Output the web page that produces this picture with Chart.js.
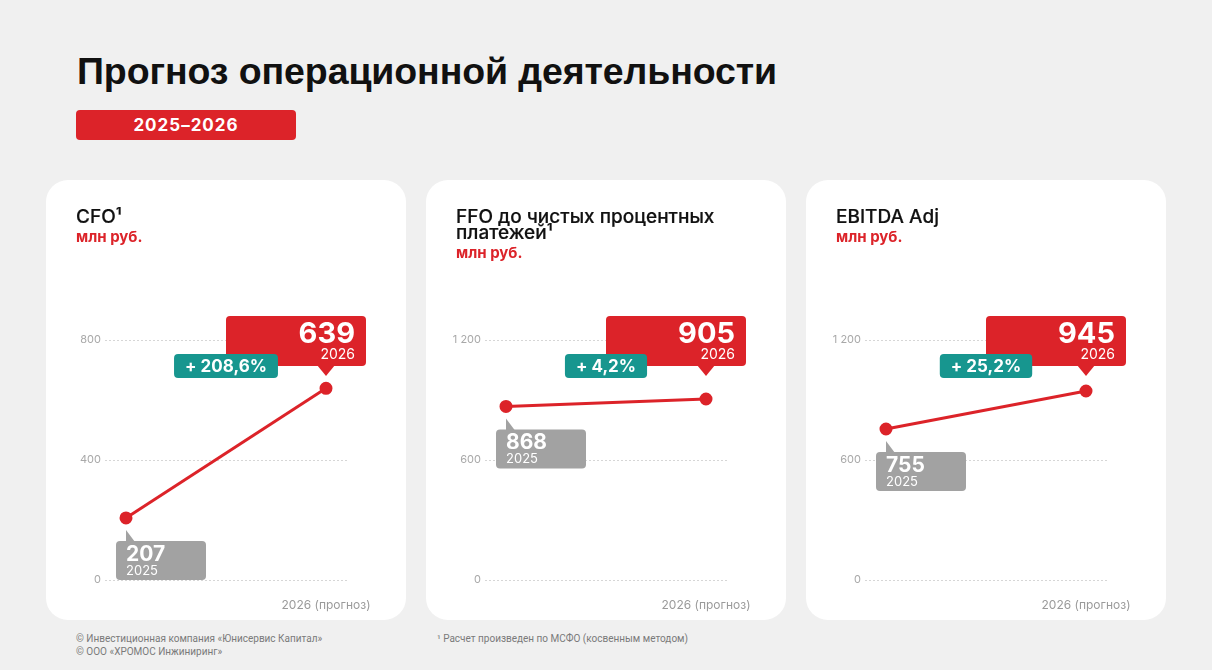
<!DOCTYPE html>
<html>
<head>
<meta charset="utf-8">
<script src="https://cdn.jsdelivr.net/npm/chart.js@4.4.1/dist/chart.umd.min.js"></script>
<style>
  html, body { margin: 0; padding: 0; }
  body { width: 1212px; height: 670px; background: #f0f0f0; position: relative; overflow: hidden; font-family: Inter, "Noto Sans", sans-serif; }
  .title { position: absolute; left: 77px; top: 53px; font: bold 37.5px/1 "Liberation Sans", Arial, sans-serif; color: #111; letter-spacing: -0.1px; }
  .badge { position: absolute; left: 76px; top: 110px; width: 220px; height: 30px; background: #dc2329; border-radius: 4px;
           color: #fff; font: bold 17px Inter, sans-serif; letter-spacing: 1px; text-align: center; line-height: 30px; }
  .card { position: absolute; top: 180px; width: 360px; height: 440px; background: #fff; border-radius: 22px; }
  .card canvas { position: absolute; left: 0; top: 0; }
  .card .head { position: absolute; left: 30px; top: 29px; width: 300px; z-index: 2; }
  .card .name { font-size: 19px; font-weight: 500; color: #111; line-height: 16px; -webkit-text-stroke: 0.2px #111; }
  .card .unit { font-size: 15px; font-weight: 700; color: #dc2329; line-height: 20px; margin-top: 2px; }
  .foot { position: absolute; font: 10px Roboto, sans-serif; color: #7a7a7a; line-height: 13px; }
</style>
</head>
<body>
<div class="title">Прогноз операционной деятельности</div>
<div class="badge">2025–2026</div>

<div class="card" style="left:46px">
  <div class="head"><div class="name">CFO¹</div><div class="unit">млн руб.</div></div>
  <canvas id="cfoChart" width="360" height="440"></canvas>
</div>
<div class="card" style="left:426px">
  <div class="head"><div class="name">FFO до чистых процентных<br>платежей¹</div><div class="unit">млн руб.</div></div>
  <canvas id="ffoChart" width="360" height="440"></canvas>
</div>
<div class="card" style="left:806px">
  <div class="head"><div class="name">EBITDA Adj</div><div class="unit">млн руб.</div></div>
  <canvas id="ebitdaChart" width="360" height="440"></canvas>
</div>

<div class="foot" style="left:76px; top:632px">© Инвестиционная компания «Юнисервис Капитал»<br>© ООО «ХРОМОС Инжиниринг»</div>
<div class="foot" style="left:437px; top:632px">¹ Расчет произведен по МСФО (косвенным методом)</div>

<script>
const categories = ['2025', '2026'];
const axisLabels = ['', '2026 (прогноз)'];
const cfoValues = [207, 639];
const ffoValues = [868, 905];
const ebitdaValues = [755, 945];
const growthLabels = ['+ 208,6%', '+ 4,2%', '+ 25,2%'];
const cfoTicks = [0, 400, 800];
const ffoTicks = [0, 600, 1200];
const ebitdaTicks = [0, 600, 1200];

const RED = '#dc2329';
const TEAL = '#17968f';
const GREY = '#a2a2a2';

function fmt(v) {
    return v >= 1000 ? Math.floor(v / 1000) + ' ' + String(v % 1000).padStart(3, '0') : String(v);
}

// callout boxes drawn from the point positions of the scales
const calloutPlugin = {
    id: 'callouts',
    afterDatasetsDraw(chart, args, opts) {
        const ctx = chart.ctx;
        const pts = chart.getDatasetMeta(0).data;
        const vals = chart.data.datasets[0].data;
        const y = chart.scales.y;
        const yTop = y.getPixelForValue(y.max);
        ctx.save();

        // 2026 - red box
        const p1 = pts[1];
        const rTop = yTop - 24, rH = 50;
        ctx.fillStyle = RED;
        ctx.beginPath();
        ctx.roundRect(p1.x - 100, rTop, 140, rH, 4);
        ctx.fill();
        ctx.beginPath();
        ctx.moveTo(p1.x - 9, rTop + rH - 1);
        ctx.lineTo(p1.x + 9, rTop + rH - 1);
        ctx.lineTo(p1.x, rTop + rH + 10);
        ctx.closePath();
        ctx.fill();
        ctx.fillStyle = '#fff';
        ctx.textAlign = 'right';
        ctx.textBaseline = 'alphabetic';
        ctx.font = 'bold 29px Inter';
        ctx.fillText(String(vals[1].y), p1.x + 29, rTop + 27);
        ctx.font = '14px Inter';
        ctx.fillText(categories[1], p1.x + 29, rTop + 43);

        // growth - teal box
        ctx.font = 'bold 17px Inter';
        const tw = ctx.measureText(opts.growth).width + 22;
        const cx = chart.width / 2;
        ctx.fillStyle = TEAL;
        ctx.beginPath();
        ctx.roundRect(cx - tw / 2, yTop + 14, tw, 24, 4);
        ctx.fill();
        ctx.fillStyle = '#fff';
        ctx.textAlign = 'center';
        ctx.fillText(opts.growth, cx, yTop + 32);

        // 2025 - grey box
        const p0 = pts[0];
        const gTop = p0.y + 23;
        ctx.fillStyle = GREY;
        ctx.beginPath();
        ctx.roundRect(p0.x - 10, gTop, 90, 39, 4);
        ctx.fill();
        ctx.beginPath();
        ctx.moveTo(p0.x, p0.y + 12);
        ctx.lineTo(p0.x, gTop + 1);
        ctx.lineTo(p0.x + 9, gTop + 1);
        ctx.closePath();
        ctx.fill();
        ctx.fillStyle = '#fff';
        ctx.textAlign = 'left';
        ctx.font = 'bold 21px Inter';
        ctx.fillText(String(vals[0].y), p0.x, gTop + 20);
        ctx.font = '13px Inter';
        ctx.fillText(categories[0], p0.x, gTop + 34);
        ctx.restore();
    }
};

function makeChart(id, values, ticks, growth) {
    const ctx = document.getElementById(id).getContext('2d');
    return new Chart(ctx, {
        type: 'line',
        data: {
            datasets: [{
                data: values.map((v, i) => ({ x: i, y: v })),
                borderColor: RED,
                backgroundColor: RED,
                borderWidth: 3,
                pointRadius: 5,
                pointHoverRadius: 5,
                clip: false
            }]
        },
        plugins: [calloutPlugin],
        options: {
            responsive: false,
            animation: false,
            devicePixelRatio: 1,
            layout: { padding: { left: 0, right: 59, top: 160, bottom: 0 } },
            plugins: {
                legend: { display: false },
                tooltip: { enabled: false },
                callouts: { growth: growth }
            },
            scales: {
                x: {
                    type: 'linear',
                    min: -0.105,
                    max: 1.105,
                    afterBuildTicks: s => { s.ticks = categories.map((c, i) => ({ value: i })); },
                    afterFit: s => { s.height = 40; },
                    grid: { display: false, drawTicks: false },
                    border: { display: false },
                    ticks: {
                        padding: 18,
                        color: '#9a9a9a',
                        font: { family: 'Inter', size: 12 },
                        callback: v => axisLabels[v]
                    }
                },
                y: {
                    min: ticks[0],
                    max: ticks[ticks.length - 1],
                    afterBuildTicks: s => { s.ticks = ticks.map(t => ({ value: t })); },
                    afterFit: s => { s.width = 59; },
                    grid: { color: '#d6d6d6', drawTicks: false, lineWidth: 1 },
                    border: { display: false, dash: [2, 2] },
                    ticks: {
                        padding: 4,
                        color: '#a8a8a8',
                        font: { family: 'Inter', size: 11 },
                        callback: v => fmt(v)
                    }
                }
            }
        }
    });
}

makeChart('cfoChart', cfoValues, cfoTicks, growthLabels[0]);
makeChart('ffoChart', ffoValues, ffoTicks, growthLabels[1]);
makeChart('ebitdaChart', ebitdaValues, ebitdaTicks, growthLabels[2]);
</script>
</body>
</html>
